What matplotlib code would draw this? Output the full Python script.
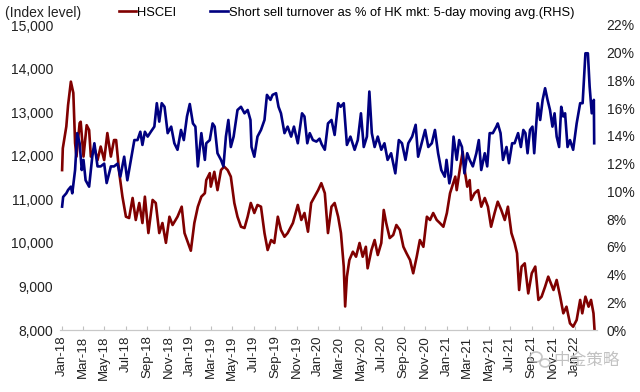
import matplotlib
matplotlib.use("Agg")
import matplotlib.pyplot as plt
import matplotlib.dates as mdates
import matplotlib.ticker as mticker
from matplotlib.patches import Ellipse
import pandas as pd

plt.rcParams['font.family'] = ['Liberation Sans', 'DejaVu Sans']

hscei_dates = [
    "2018-01-01", "2018-01-03", "2018-01-13", "2018-01-18", "2018-01-26", "2018-02-02", "2018-02-07",
    "2018-02-11", "2018-02-20", "2018-02-23", "2018-03-03", "2018-03-12", "2018-03-19", "2018-03-24",
    "2018-04-03", "2018-04-12", "2018-04-21", "2018-05-01", "2018-05-10", "2018-05-20", "2018-05-29",
    "2018-06-04", "2018-06-13", "2018-06-22", "2018-07-02", "2018-07-11", "2018-07-21", "2018-07-30",
    "2018-08-09", "2018-08-18", "2018-08-25", "2018-09-04", "2018-09-16", "2018-09-25", "2018-10-05",
    "2018-10-14", "2018-10-24", "2018-11-03", "2018-11-12", "2018-11-26", "2018-12-08", "2018-12-16",
    "2019-01-03", "2019-01-13", "2019-01-23", "2019-02-02", "2019-02-12", "2019-02-16", "2019-02-26",
    "2019-03-01", "2019-03-11", "2019-03-20", "2019-03-30", "2019-04-08", "2019-04-18", "2019-04-27",
    "2019-05-07", "2019-05-16", "2019-05-26", "2019-06-05", "2019-06-14", "2019-06-23", "2019-07-03",
    "2019-07-12", "2019-07-22", "2019-08-01", "2019-08-10", "2019-08-20", "2019-08-29", "2019-09-08",
    "2019-09-17", "2019-09-27", "2019-10-06", "2019-10-21", "2019-11-04", "2019-11-14", "2019-11-23",
    "2019-12-03", "2019-12-12", "2019-12-22", "2020-01-01", "2020-01-10", "2020-01-20", "2020-01-29",
    "2020-02-08", "2020-02-17", "2020-02-27", "2020-03-06", "2020-03-14", "2020-03-18", "2020-03-23",
    "2020-03-30", "2020-04-09", "2020-04-18", "2020-04-28", "2020-05-07", "2020-05-16", "2020-05-21",
    "2020-06-01", "2020-06-10", "2020-06-19", "2020-06-29", "2020-07-06", "2020-07-13", "2020-07-23",
    "2020-08-02", "2020-08-11", "2020-08-21", "2020-08-31", "2020-09-09", "2020-09-19", "2020-09-28",
    "2020-10-08", "2020-10-17", "2020-10-27", "2020-11-06", "2020-11-15", "2020-11-24", "2020-12-04",
    "2020-12-13", "2020-12-23", "2021-01-02", "2021-01-11", "2021-01-26", "2021-01-30", "2021-02-09",
    "2021-02-16", "2021-02-23", "2021-03-01", "2021-03-08", "2021-03-12", "2021-03-22", "2021-04-01",
    "2021-04-10", "2021-04-20", "2021-04-29", "2021-05-08", "2021-05-18", "2021-05-27", "2021-06-06",
    "2021-06-16", "2021-06-25", "2021-07-05", "2021-07-14", "2021-07-21", "2021-07-27", "2021-08-03",
    "2021-08-12", "2021-08-22", "2021-09-01", "2021-09-11", "2021-09-20", "2021-09-29", "2021-10-09",
    "2021-10-18", "2021-11-02", "2021-11-11", "2021-11-21", "2021-11-30", "2021-12-09", "2021-12-19",
    "2021-12-28", "2022-01-07", "2022-01-17", "2022-01-23", "2022-02-01", "2022-02-10", "2022-02-17",
    "2022-02-24", "2022-02-27",
]
hscei_values = [
    11670, 12170, 12670, 13160, 13700, 13440, 12290,
    11980, 12750, 12780, 11980, 12700, 12590, 11980,
    12180, 11900, 12210, 11900, 12520, 11980, 12360,
    12360, 11600, 11060, 10600, 10570, 11030, 10525,
    10915, 10455, 11060, 10225, 10985, 10915, 10225,
    10455, 10000, 10600, 10410, 10600, 10830, 10225,
    9820, 10455, 10830, 11060, 11140, 11440, 11600,
    11290, 11630, 11210, 11670, 11750, 11670, 11520,
    10915, 10600, 10370, 10340, 10600, 10915, 10685,
    10870, 10830, 10225, 9836, 10065, 9997, 10600,
    10295, 10140, 10225, 10455, 10870, 10525, 10685,
    10256, 10915, 11060, 11210, 11370, 11140, 10225,
    10830, 10915, 10600, 10225, 9455, 8540, 9225,
    9606, 9797, 9682, 9997, 9682, 9910, 9416,
    9836, 10065, 9721, 9997, 10755, 10455, 10110,
    10180, 10410, 10295, 9910, 9760, 9606, 9302,
    9682, 10065, 9910, 10600, 10525, 10685, 10525,
    10455, 10370, 10685, 11140, 11520, 11210, 11750,
    12090, 11600, 11290, 11440, 10985, 11140, 11210,
    10830, 11030, 10830, 10370, 10685, 10945, 10755,
    10525, 10830, 10225, 9997, 9760, 8918, 9455,
    9530, 8840, 9302, 9455, 8690, 8765, 8994,
    9225, 8918, 9148, 8765, 8383, 8535, 8153,
    8076, 8230, 8690, 8383, 8765, 8535, 8690,
    8383, 8000,
]

short_dates = [
    "2018-01-01", "2018-01-04", "2018-01-13", "2018-01-18", "2018-01-26", "2018-01-30", "2018-02-07",
    "2018-02-13", "2018-02-20", "2018-02-26", "2018-03-03", "2018-03-09", "2018-03-19", "2018-03-28",
    "2018-04-03", "2018-04-12", "2018-04-21", "2018-05-01", "2018-05-08", "2018-05-20", "2018-05-29",
    "2018-06-08", "2018-06-16", "2018-06-27", "2018-07-06", "2018-07-16", "2018-07-26", "2018-08-04",
    "2018-08-12", "2018-08-18", "2018-08-25", "2018-09-02", "2018-09-11", "2018-09-21", "2018-09-28",
    "2018-10-05", "2018-10-12", "2018-10-20", "2018-10-29", "2018-11-08", "2018-11-17", "2018-11-26",
    "2018-12-06", "2018-12-14", "2018-12-23", "2018-12-31", "2019-01-09", "2019-01-16", "2019-01-23",
    "2019-02-02", "2019-02-12", "2019-02-16", "2019-02-26", "2019-03-06", "2019-03-12", "2019-03-20",
    "2019-03-30", "2019-04-06", "2019-04-13", "2019-04-20", "2019-04-27", "2019-05-05", "2019-05-16",
    "2019-05-26", "2019-06-05", "2019-06-14", "2019-06-22", "2019-06-25", "2019-07-03", "2019-07-12",
    "2019-07-22", "2019-08-01", "2019-08-08", "2019-08-18", "2019-08-24", "2019-09-03", "2019-09-10",
    "2019-09-17", "2019-09-27", "2019-10-06", "2019-10-16", "2019-10-24", "2019-11-04", "2019-11-16",
    "2019-11-23", "2019-12-01", "2019-12-08", "2019-12-17", "2019-12-27", "2020-01-05", "2020-01-11",
    "2020-01-20", "2020-01-29", "2020-02-08", "2020-02-17", "2020-02-27", "2020-03-05", "2020-03-14",
    "2020-03-23", "2020-04-02", "2020-04-14", "2020-04-23", "2020-05-02", "2020-05-10", "2020-05-19",
    "2020-05-26", "2020-06-02", "2020-06-10", "2020-06-19", "2020-06-29", "2020-07-08", "2020-07-17",
    "2020-07-27", "2020-08-08", "2020-08-18", "2020-08-27", "2020-09-06", "2020-09-14", "2020-09-25",
    "2020-10-05", "2020-10-12", "2020-10-22", "2020-11-01", "2020-11-10", "2020-11-20", "2020-11-29",
    "2020-12-08", "2020-12-17", "2020-12-27", "2021-01-01", "2021-01-09", "2021-01-14", "2021-01-21",
    "2021-01-30", "2021-02-06", "2021-02-14", "2021-02-21", "2021-03-01", "2021-03-08", "2021-03-17",
    "2021-03-27", "2021-04-03", "2021-04-10", "2021-04-20", "2021-04-27", "2021-05-04", "2021-05-13",
    "2021-05-23", "2021-05-27", "2021-06-04", "2021-06-11", "2021-06-21", "2021-06-28", "2021-07-07",
    "2021-07-14", "2021-07-24", "2021-08-01", "2021-08-08", "2021-08-14", "2021-08-20", "2021-08-27",
    "2021-09-03", "2021-09-08", "2021-09-18", "2021-09-25", "2021-10-02", "2021-10-09", "2021-10-16",
    "2021-10-23", "2021-10-30", "2021-11-05", "2021-11-11", "2021-11-18", "2021-11-24", "2021-11-30",
    "2021-12-05", "2021-12-12", "2021-12-19", "2021-12-28", "2022-01-07", "2022-01-17", "2022-01-24",
    "2022-02-01", "2022-02-08", "2022-02-13", "2022-02-19", "2022-02-25", "2022-02-26",
]
short_values = [
    8.9, 9.6, 9.86, 10.1, 10.34, 9.86, 11.54,
    14.2, 13.47, 11.54, 12.27, 10.8, 10.34, 12.5,
    13.47, 11.8, 11.8, 12.0, 10.6, 11.8, 11.8,
    12.0, 11.06, 12.5, 10.8, 12.27, 13.7, 13.7,
    14.3, 13.35, 14.3, 13.95, 14.3, 14.67, 16.36,
    15.03, 16.36, 16.1, 14.2, 14.67, 13.47, 13.0,
    14.43, 13.7, 15.4, 16.3, 14.9, 14.67, 11.8,
    14.2, 12.27, 13.47, 13.7, 14.9, 14.67, 12.75,
    12.27, 11.8, 13.95, 15.15, 13.2, 13.95, 15.87,
    16.1, 15.63, 15.87, 15.15, 13.2, 12.5, 13.95,
    14.43, 15.15, 16.96, 16.6, 16.96, 17.08, 16.1,
    15.63, 14.2, 14.67, 13.95, 14.67, 13.47, 15.63,
    15.4, 13.47, 14.2, 13.7, 13.59, 13.8, 13.4,
    13.0, 14.9, 15.15, 14.07, 16.36, 16.1, 16.36,
    13.35, 13.95, 13.0, 13.7, 15.63, 13.2, 13.95,
    17.2, 14.2, 13.2, 13.95, 13.0, 13.47, 12.27,
    12.75, 11.3, 13.7, 13.47, 12.27, 13.47, 13.95,
    14.8, 12.5, 13.47, 14.43, 13.2, 13.47, 14.43,
    12.75, 11.54, 11.06, 12.27, 10.58, 11.2, 13.95,
    12.27, 13.7, 13.2, 11.3, 12.75, 12.27, 11.8,
    12.75, 13.7, 11.54, 12.75, 11.8, 14.2, 14.2,
    14.67, 14.9, 14.2, 12.27, 13.2, 12.03, 13.47,
    13.47, 14.2, 13.2, 14.43, 14.2, 12.75, 14.43,
    14.67, 12.75, 16.36, 15.15, 16.6, 17.44, 16.6,
    15.87, 14.67, 15.63, 13.95, 13.2, 16.1, 15.4,
    15.63, 13.2, 13.7, 13.0, 14.9, 16.36, 16.36,
    19.96, 19.96, 17.56, 15.63, 16.6, 13.47,
]

left_ticks = [8000, 9000, 10000, 11000, 12000, 13000, 14000, 15000]
right_ticks = [0, 2, 4, 6, 8, 10, 12, 14, 16, 18, 20, 22]
x_ticks = pd.date_range("2018-01-01", "2022-01-01", freq="2MS")

RED = "#800000"
BLUE = "#000080"

fig = plt.figure(figsize=(6.4, 3.92), dpi=100)
ax = fig.add_axes([60 / 640, 1 - 330 / 392, (597 - 60) / 640, (330 - 25) / 392])
ax2 = ax.twinx()

hd = pd.to_datetime(hscei_dates)
sd = pd.to_datetime(short_dates)
l1, = ax.plot(hd, hscei_values, color=RED, lw=1.9, solid_joinstyle="round")
l2, = ax2.plot(sd, short_values, color=BLUE, lw=1.9, solid_joinstyle="round")

ax.set_ylim(8000, 15000)
ax.set_yticks(left_ticks)
ax.yaxis.set_major_formatter(mticker.FuncFormatter(lambda v, p: f"{int(v):,}"))
ax2.set_ylim(0, 22)
ax2.set_yticks(right_ticks)
ax2.yaxis.set_major_formatter(mticker.FuncFormatter(lambda v, p: f"{int(v)}%"))

ax.set_xlim(pd.Timestamp("2017-12-26"), pd.Timestamp("2022-03-06"))
ax.set_xticks(x_ticks)
ax.xaxis.set_major_formatter(mdates.DateFormatter("%b-%y"))

for a in (ax, ax2):
    for s in ("top", "left", "right"):
        a.spines[s].set_visible(False)
    a.spines["bottom"].set_color("#c8c8c8")
    a.tick_params(axis="y", length=0, labelsize=10, colors="#222222", pad=5)
ax.tick_params(axis="x", direction="in", length=3, color="#c0c0c0",
               labelsize=9.5, labelcolor="#222222", rotation=90, pad=4)
ax2.tick_params(axis="y", pad=7)

fig.text(5 / 640, 1 - 13 / 392, "(Index level)", fontsize=10, color="#222222", va="center")
fig.legend([l1, l2], ["HSCEI", "Short sell turnover as % of HK mkt: 5-day moving avg.(RHS)"],
           loc="center left", bbox_to_anchor=(119 / 640, 1 - 13 / 392), ncol=2, frameon=False,
           fontsize=9.3, handlelength=1.35, handletextpad=0.08, columnspacing=2.6,
           borderaxespad=0, borderpad=0)

# watermark
wm_color = "#b8b8b8"
fig.patches.append(Ellipse((536 / 640, 1 - 357 / 392), 12 / 640, 10 / 392, transform=fig.transFigure,
                           fill=False, ec=wm_color, lw=1.2, alpha=0.8))
fig.patches.append(Ellipse((545 / 640, 1 - 363 / 392), 10 / 640, 8 / 392, transform=fig.transFigure,
                           fill=False, ec=wm_color, lw=1.2, alpha=0.8))
fig.text(553 / 640, 1 - 360 / 392, "中金策略", fontsize=12, color=wm_color, alpha=0.85,
         family=["Noto Sans CJK SC", "DejaVu Sans"], va="center")

fig.savefig("out.png", dpi=100)
